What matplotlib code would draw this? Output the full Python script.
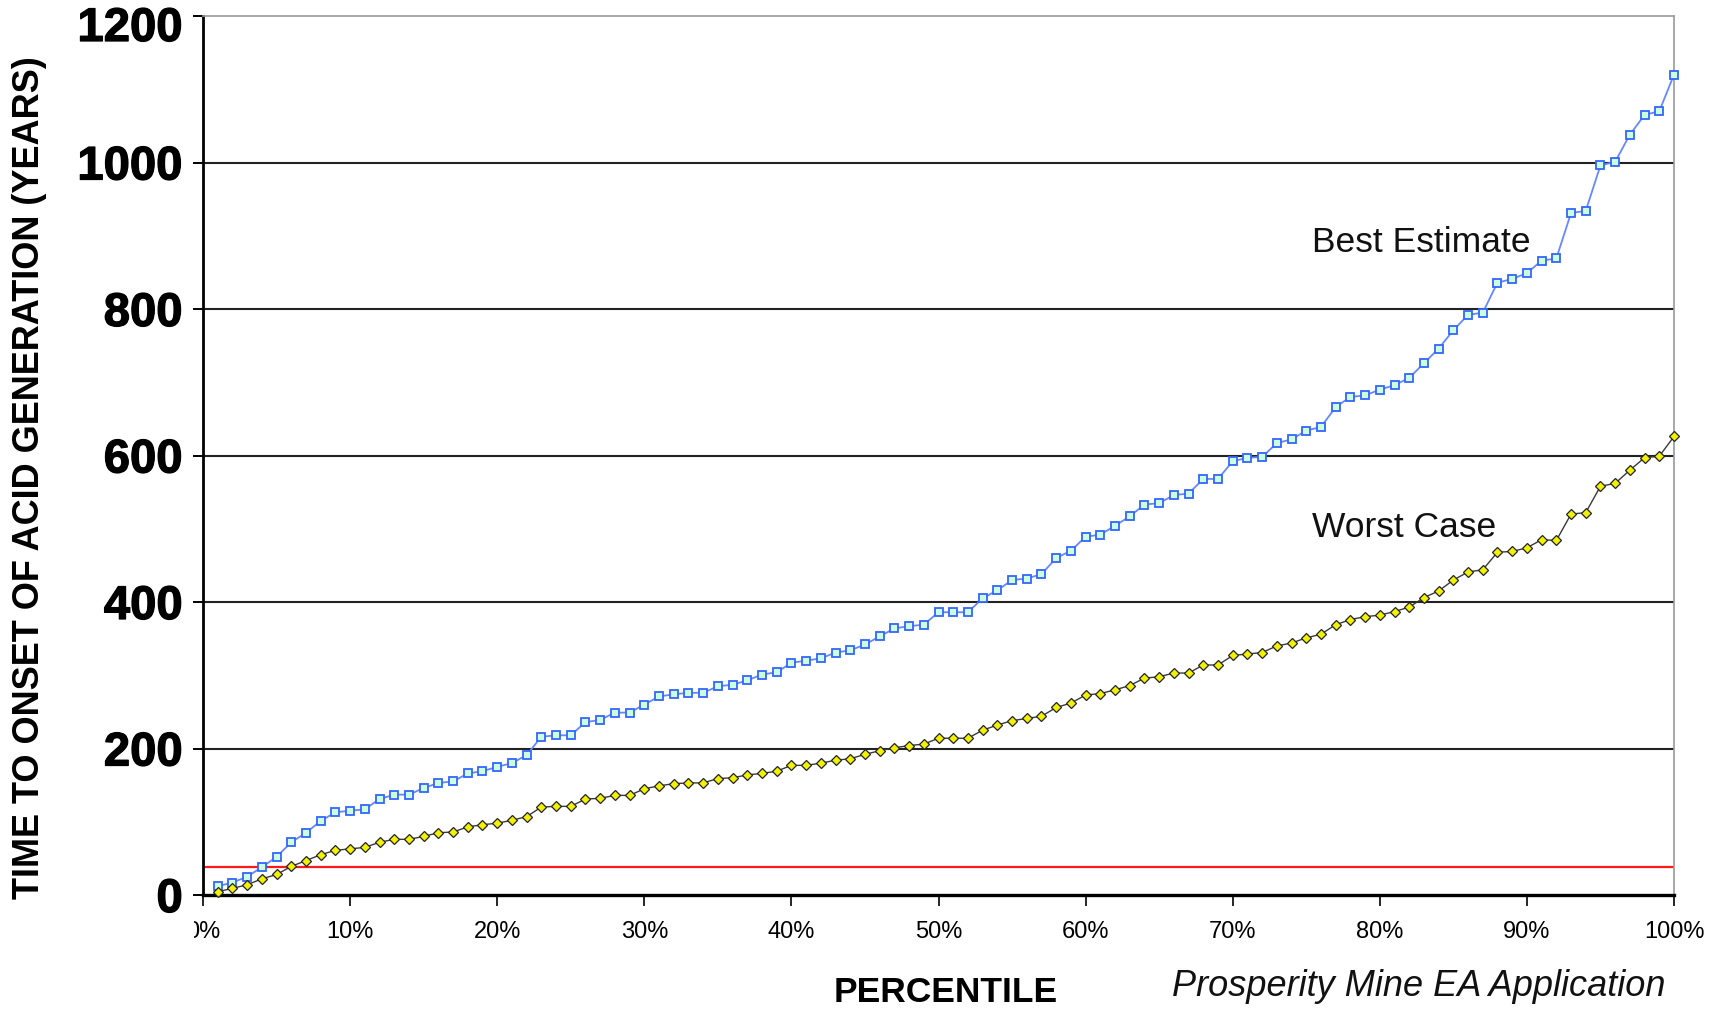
import matplotlib
matplotlib.use("Agg")
import matplotlib.pyplot as plt
import matplotlib.patheffects as pe
from matplotlib.transforms import Bbox, TransformedBbox, ScaledTranslation

# Percentile of each simulated value (1 % .. 100 %)
percentile = list(range(1, 101))

# Time to onset of acid generation (years), sorted
best_estimate = [
    12, 17, 25, 38, 52, 72, 85, 101, 113, 115,
    117, 131, 137, 137, 146, 153, 155, 166, 169, 175,
    180, 191, 216, 218, 218, 236, 239, 249, 249, 260,
    271, 274, 276, 276, 285, 287, 293, 301, 304, 317,
    320, 323, 331, 334, 342, 353, 364, 367, 369, 386,
    386, 386, 405, 416, 430, 432, 438, 460, 470, 489,
    492, 504, 517, 533, 535, 546, 548, 568, 568, 592,
    597, 598, 617, 622, 634, 639, 666, 680, 682, 690,
    696, 706, 726, 746, 771, 792, 795, 836, 841, 849,
    866, 869, 931, 934, 996, 1001, 1038, 1065, 1070, 1120,
]
worst_case = [
    4.5, 9, 14, 22, 28, 39, 47, 55, 61, 63,
    65, 72, 76, 76, 80, 85, 86, 93, 96, 98,
    102, 107, 120, 121, 121, 131, 132, 136, 136, 145,
    149, 152, 153, 153, 159, 160, 164, 166, 169, 177,
    177, 180, 184, 186, 192, 197, 201, 204, 206, 214,
    214, 214, 225, 232, 238, 241, 244, 256, 262, 273,
    275, 280, 286, 296, 298, 303, 303, 314, 314, 327,
    329, 331, 340, 344, 351, 356, 369, 376, 380, 382,
    387, 393, 406, 415, 430, 441, 444, 468, 469, 474,
    485, 484, 520, 522, 558, 562, 580, 597, 599, 626,
]
threshold_years = 38

x_ticks = list(range(0, 101, 10))
x_tick_labels = [f"{t}%" for t in x_ticks]
y_ticks = [0, 200, 400, 600, 800, 1000, 1200]

W, H = 1721, 1012
fig = plt.figure(figsize=(W / 100, H / 100), dpi=100)
ax = fig.add_axes([203 / W, 1 - 896 / H, (1674 - 203) / W, (896 - 17) / H])

ax.axhline(threshold_years, color="#ff1a1a", lw=1.6, zorder=2)

ax.plot(percentile, best_estimate, color="#6688ff", lw=1.3, marker="s",
        ms=6.3, mfc="#ccffdd", mec="#3366ff", mew=1.3, zorder=3, clip_on=False)
ax.plot(percentile, worst_case, color="#3a3a3a", lw=1.0, marker="D",
        ms=4.6, mfc="#f2f200", mec="#222222", mew=0.9, zorder=4, clip_on=False)

ax.set_xlim(0, 100)
ax.set_ylim(0, 1200)
ax.set_xticks(x_ticks)
ax.set_xticklabels(x_tick_labels)
ax.set_yticks(y_ticks)

heavy = [pe.withStroke(linewidth=0.9, foreground="black")]
for lbl in ax.get_yticklabels():
    lbl.set_fontfamily("Liberation Sans")
    lbl.set_fontweight("bold")
    lbl.set_fontsize(34)
    lbl.set_path_effects(heavy)
for lbl in ax.get_xticklabels():
    lbl.set_fontfamily("Liberation Sans")
    lbl.set_fontsize(17)

ax.tick_params(axis="y", direction="out", length=7.5, width=1.4, pad=7, colors="black")
ax.tick_params(axis="x", direction="out", length=8, width=1.2, pad=10, colors="black")

ax.grid(axis="y", color="#222222", lw=1.5, zorder=1)
ax.set_axisbelow(True)
gl = ax.yaxis.get_gridlines()
gl[0].set_visible(False)
gl[-1].set_visible(False)

ax.spines["left"].set_color("black")
ax.spines["left"].set_linewidth(2.0)
ax.spines["bottom"].set_color("black")
ax.spines["bottom"].set_linewidth(2.4)
ax.spines["top"].set_color("#9a9a9a")
ax.spines["top"].set_linewidth(1.2)
ax.spines["right"].set_color("#9a9a9a")
ax.spines["right"].set_linewidth(1.2)

ax.text(75.4, 892, "Best Estimate", fontsize=25.5, family="Liberation Sans",
        va="center", ha="left", color="#111111")
ax.text(75.4, 503, "Worst Case", fontsize=25.5, family="Liberation Sans",
        va="center", ha="left", color="#111111")

fig.text(30 / W, 1 - 478 / H, "TIME TO ONSET OF ACID GENERATION (YEARS)",
         rotation=90, ha="center", va="center", fontsize=26,
         family="Liberation Sans", fontweight="bold")
fig.text(946 / W, 1 - 993 / H, "PERCENTILE", ha="center", va="center",
         fontsize=25.5, family="Liberation Sans", fontweight="bold")
fig.text(1666 / W, 1 - 987 / H, "Prosperity Mine EA Application", ha="right",
         va="center", fontsize=26, family="Liberation Sans", style="italic",
         color="#111111")

fig.canvas.draw()
# the first percent label is cut off at its left edge
first = ax.get_xticklabels()[0]
first.set_clip_box(TransformedBbox(Bbox([[194 / W, 0], [1, 1]]), fig.transFigure))
first.set_clip_on(True)
# the top value label sits a little below its tick
top = ax.get_yticklabels()[-1]
top.set_transform(top.get_transform() + ScaledTranslation(0, -0.08, fig.dpi_scale_trans))

fig.savefig("out.png", dpi=100)
